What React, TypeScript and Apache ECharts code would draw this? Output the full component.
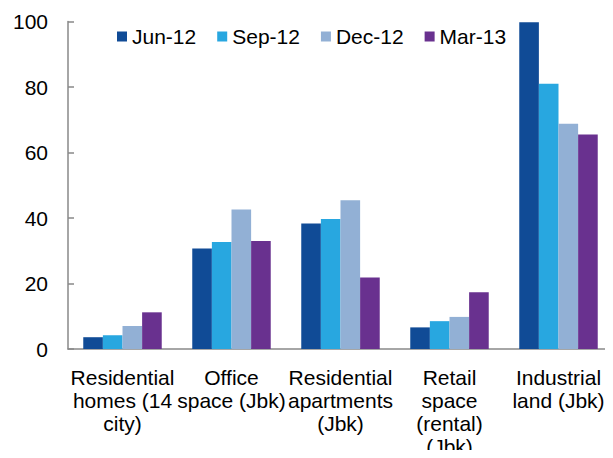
import React, { useEffect, useRef } from "react";
import * as echarts from "echarts";

const categories = [
  "Residential\nhomes (14\ncity)",
  "Office\nspace (Jbk)",
  "Residential\napartments\n(Jbk)",
  "Retail\nspace\n(rental)\n(Jbk)",
  "Industrial\nland (Jbk)",
];
const seriesNames = ["Jun-12", "Sep-12", "Dec-12", "Mar-13"];
const jun12 = [3.6, 30.7, 38.3, 6.6, 99.8];
const sep12 = [4.2, 32.7, 39.7, 8.5, 81.0];
const dec12 = [7.0, 42.6, 45.4, 9.8, 68.8];
const mar13 = [11.2, 33.0, 21.8, 17.3, 65.5];
const colors = ["#104B96", "#28A7E0", "#92B0D5", "#69318F"];

export default function App() {
  const ref = useRef<HTMLDivElement>(null);
  useEffect(() => {
    if (!ref.current) return;
    const chart = echarts.init(ref.current, null, { renderer: "svg" });
    const font = "'Liberation Sans', Arial, sans-serif";
    const data = [jun12, sep12, dec12, mar13];
    chart.setOption({
      animation: false,
      textStyle: { fontFamily: font },
      legend: {
        left: 112,
        top: 21,
        padding: 5,
        itemWidth: 10,
        itemHeight: 10,
        itemGap: 21,
        icon: "rect",
        textStyle: { fontSize: 21, color: "#000", fontFamily: font },
        data: seriesNames,
      },
      grid: { left: 68, top: 21.5, width: 555, height: 329.5 },
      xAxis: {
        type: "category",
        data: categories,
        axisLine: { lineStyle: { color: "#898989", width: 1.5 } },
        axisTick: { inside: true, length: 6, lineStyle: { color: "#898989", width: 1.5 } },
        axisLabel: {
          interval: 0,
          fontSize: 21,
          lineHeight: 23,
          color: "#000",
          margin: 17,
          fontFamily: font,
        },
      },
      yAxis: {
        type: "value",
        min: 0,
        max: 100,
        interval: 20,
        splitLine: { show: false },
        axisLine: { show: true, lineStyle: { color: "#898989", width: 1.5 } },
        axisTick: { show: true, inside: true, length: 6, lineStyle: { color: "#898989", width: 1.5 } },
        axisLabel: { fontSize: 21, color: "#000", margin: 20, fontFamily: font },
      },
      series: seriesNames.map((name, i) => ({
        name,
        type: "bar",
        data: data[i],
        barGap: "0%",
        barCategoryGap: "28%",
        itemStyle: { color: colors[i] },
      })),
    });
    return () => chart.dispose();
  }, []);
  return <div ref={ref} style={{ width: 613, height: 458, margin: -8 }} />;
}
